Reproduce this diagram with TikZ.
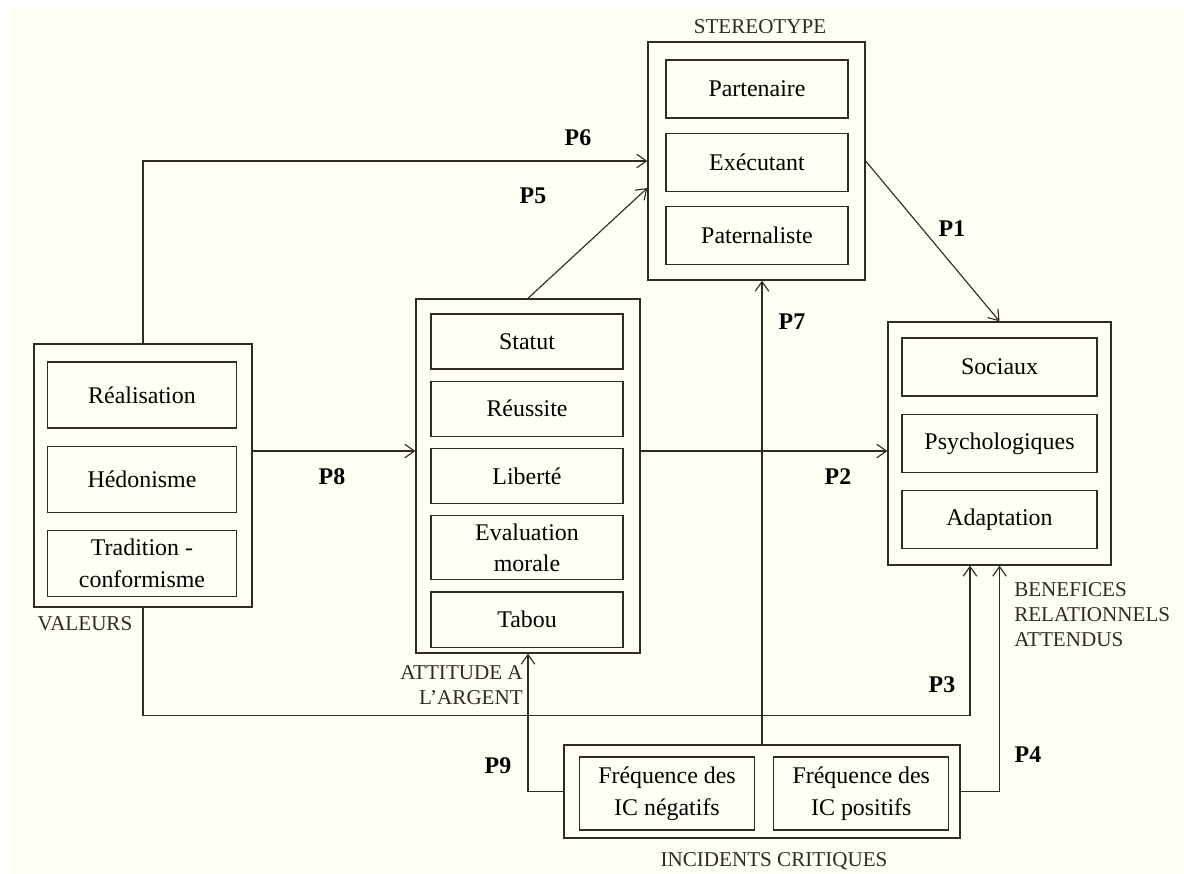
\documentclass[tikz,border=0pt]{standalone}
\usepackage{fontspec}
\setmainfont{Liberation Serif}
\usetikzlibrary{positioning, arrows.meta}
\definecolor{cream}{RGB}{255,254,243}
\definecolor{ink}{RGB}{45,42,40}
\tikzset{
	itembox/.style={rectangle, draw=ink, line width=0.9pt, align=center,
		font=\fontsize{17}{22.5}\selectfont, inner sep=2pt},
	groupbox/.style={rectangle, draw=ink, line width=0.9pt, inner sep=0pt},
	linkarr/.style={-{Straight Barb[length=2.4mm, width=3.4mm]}, line width=0.8pt, draw=ink},
	plabel/.style={font=\fontsize{17}{20}\selectfont\bfseries, text=black},
	grouplabel/.style={font=\fontsize{15}{17.8}\selectfont, text=ink, inner sep=0pt}
}

\begin{document}
\begin{tikzpicture}[x=0.025cm, y=-0.025cm,
		stereoitem/.style={itembox, minimum width=4.55cm, minimum height=1.45cm},
		argentitem/.style={itembox, minimum width=4.8cm, minimum height=1.375cm},
		valeuritem/.style={itembox, minimum width=4.725cm, minimum height=1.65cm},
		benefitem/.style={itembox, minimum width=4.875cm, minimum height=1.45cm},
		incidentitem/.style={itembox, minimum width=4.375cm, minimum height=1.825cm}]
	\useasboundingbox (0,0) rectangle (1184,874);
	\fill[white] (0,0) rectangle (1184,874);
	\fill[cream] (8,8) rectangle (1184,874);

	% outer frames
	\node[groupbox, minimum width=5.425cm, minimum height=5.95cm] (stereo) at (756.5,161) {};
	\node[groupbox, minimum width=5.6cm, minimum height=8.85cm] (argent) at (528,476) {};
	\node[groupbox, minimum width=5.45cm, minimum height=6.575cm] (valeurs) at (143,475.5) {};
	\node[groupbox, minimum width=5.575cm, minimum height=6.075cm] (benef) at (999.5,443.5) {};
	\node[groupbox, minimum width=9.9cm, minimum height=2.325cm] (incid) at (762,791.5) {};

	% stereotype
	\node[stereoitem] (partenaire) at (757,89) {Partenaire};
	\node[stereoitem, below=0.35cm of partenaire] (executant) {Exécutant};
	\node[stereoitem, below=0.35cm of executant] (paternaliste) {Paternaliste};

	% attitude a l'argent
	\node[argentitem] (statut) at (527,341.5) {Statut};
	\node[argentitem, below=0.275cm of statut] (reussite) {Réussite};
	\node[argentitem, below=0.275cm of reussite] (liberte) {Liberté};
	\node[argentitem, minimum height=1.6cm, below=0.275cm of liberte] (morale) {Evaluation\\morale};
	\node[argentitem, below=0.275cm of morale] (tabou) {Tabou};

	% valeurs
	\node[valeuritem] (realisation) at (142,395) {Réalisation};
	\node[valeuritem, below=0.425cm of realisation] (hedonisme) {Hédonisme};
	\node[valeuritem, below=0.425cm of hedonisme] (tradition) {Tradition -\\conformisme};

	% benefices
	\node[benefitem] (sociaux) at (999.5,367) {Sociaux};
	\node[benefitem, below=0.425cm of sociaux] (psycho) {Psychologiques};
	\node[benefitem, below=0.425cm of psycho] (adaptation) {Adaptation};

	% incidents critiques
	\node[incidentitem] (negatifs) at (667,793.5) {Fréquence des\\IC négatifs};
	\node[incidentitem, right=0.45cm of negatifs] (positifs) {Fréquence des\\IC positifs};

	% group titles
	\node[grouplabel] (stereotitle) at (760,27) {STEREOTYPE};
	\node[grouplabel] (valeurstitle) at (85,624) {VALEURS};
	\node[grouplabel, align=right, anchor=east] (argenttitle) at (523,685) {ATTITUDE A\\L’ARGENT};
	\node[grouplabel, align=left, anchor=west] (beneftitle) at (1014,615) {BENEFICES\\RELATIONNELS\\ATTENDUS};
	\node[grouplabel] (incidtitle) at (774,861) {INCIDENTS CRITIQUES};

	% links
	\coordinate (midrow) at (0,451);
	\draw[linkarr] (valeurs.north) |- (stereo.west);
	\draw[linkarr] (argent.north) -- ([yshift=-0.675cm]stereo.west);
	\draw[linkarr] (stereo.east) -- (benef.north);
	\draw[linkarr] (valeurs.east |- midrow) -- (argent.west |- midrow);
	\draw[linkarr] (argent.east |- midrow) -- (benef.west |- midrow);
	\draw[linkarr] (valeurs.south) -- ++(0,108) -| ([xshift=-0.7375cm]benef.south);
	\draw[linkarr] (incid.east) -| (benef.south);
	\draw[linkarr] (incid.west) -| (argent.south);
	\draw[linkarr] (incid.north) -- (incid.north |- stereo.south);

	% proposition labels
	\node[plabel] (p1) at (952,229) {P1};
	\node[plabel] (p2) at (838,477) {P2};
	\node[plabel] (p3) at (942,685) {P3};
	\node[plabel] (p4) at (1028,755) {P4};
	\node[plabel] (p5) at (533,196) {P5};
	\node[plabel] (p6) at (578,138) {P6};
	\node[plabel] (p7) at (792,322) {P7};
	\node[plabel] (p8) at (332,477) {P8};
	\node[plabel] (p9) at (498,766) {P9};
\end{tikzpicture}
\end{document}
